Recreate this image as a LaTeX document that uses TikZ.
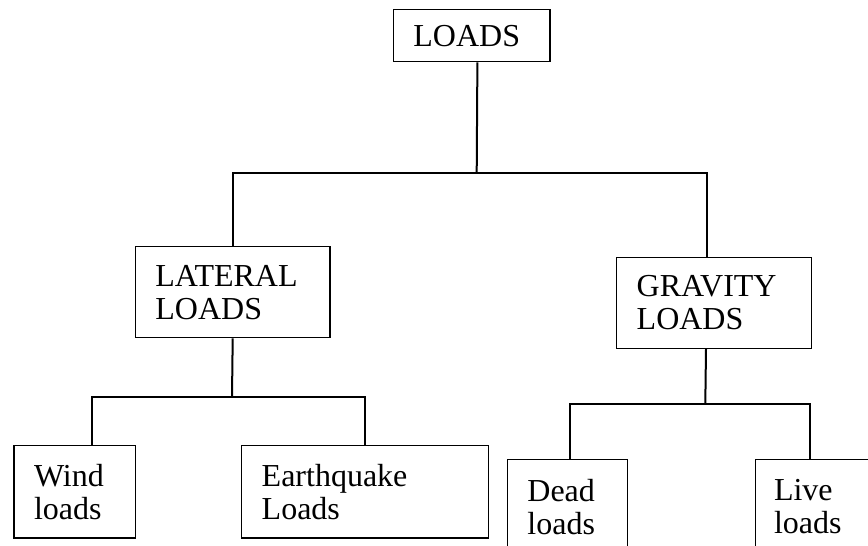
\documentclass[tikz,border=0pt]{standalone}
\usepackage{fontspec}
\setmainfont{Liberation Serif}
\usepackage{tikz}
\tikzset{
	loadbox/.style={draw, line width=0.7pt, anchor=north west, align=left,
		inner xsep=10pt, inner ysep=0pt, font=\fontsize{16}{16.4}\selectfont},
	link/.style={line width=1pt}
}

\begin{document}
\begin{tikzpicture}[x=0.5pt, y=-0.5pt]
			%%%%% START %%%%%
			
			\useasboundingbox (0, 0) rectangle (868, 546);
			\clip (0, 0) rectangle (868, 546);
			
			\node[loadbox, text width=58.3pt, minimum height=26pt] (loads) at (392.7, 9) {LOADS};
			
			\node[loadbox, text width=77.3pt, minimum height=45.5pt] (lateral) at (134.7, 246) {LATERAL\\LOADS};
			\node[loadbox, text width=77.3pt, minimum height=45.5pt] (gravity) at (616, 256.7) {GRAVITY\\LOADS};
			
			\node[loadbox, text width=40.7pt, minimum height=46.2pt] (wind) at (13.3, 445) {Wind\\loads};
			\node[loadbox, text width=103.5pt, minimum height=46.2pt] (quake) at (241, 445) {Earthquake\\Loads};
			
			\node[loadbox, text width=40pt, minimum height=47pt] (dead) at (506.7, 459) {Dead\\loads};
			\node[loadbox, text width=46pt, minimum height=47pt, inner xsep=9.3pt] (live) at (754.7, 459) {Live\\loads};
			
			\coordinate (top) at (476.7, 173);
			\coordinate (lbus) at (232, 396.7);
			\coordinate (rbus) at (705.3, 404.3);
			
			\draw[link] ([xshift=2.85pt]loads.south) -- (top);
			\draw[link] (lateral.north) |- (top) -| ([xshift=-3.3pt]gravity.north);
			
			\draw[link] (lateral.south) -- (lbus);
			\draw[link] ([xshift=8.85pt]wind.north) |- (lbus) -| (quake.north);
			
			\draw[link] ([xshift=-4pt]gravity.south) -- (rbus);
			\draw[link] ([xshift=1.15pt]dead.north) |- (rbus) -| ([xshift=-4.85pt]live.north);
			
			%%%%% END %%%%%
\end{tikzpicture}
\end{document}
